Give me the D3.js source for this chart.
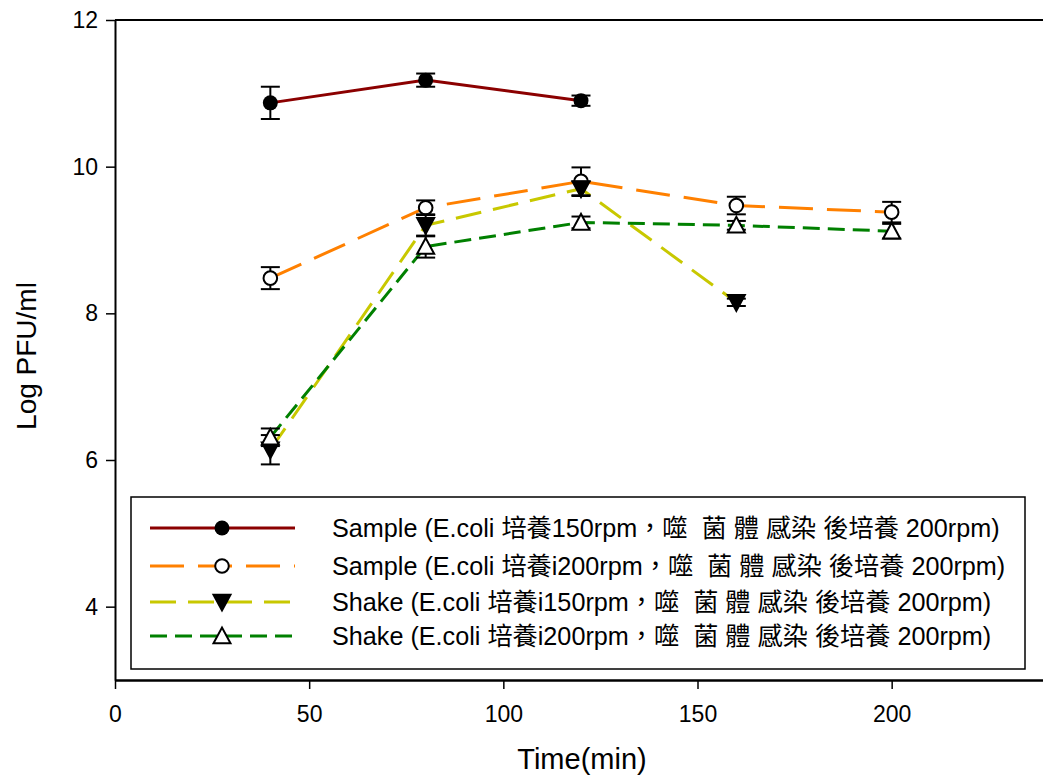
<!DOCTYPE html>
<html>
<head>
<meta charset="utf-8">
<script src="https://cdn.jsdelivr.net/npm/d3@7"></script>
<style>
  body { margin: 0; background: #fff; }
  text { font-family: "Liberation Sans", Arial, "Noto Sans CJK TC", sans-serif; }
</style>
</head>
<body>
<div id="chart"></div>
<script>
// data
var times = [40, 80, 120, 160, 200]

var names = [
    "Sample (E.coli 培養150rpm，噬  菌 體 感染 後培養 200rpm)",
    "Sample (E.coli 培養i200rpm，噬  菌 體 感染 後培養 200rpm)",
    "Shake (E.coli 培養i150rpm，噬  菌 體 感染 後培養 200rpm)",
    "Shake (E.coli 培養i200rpm，噬  菌 體 感染 後培養 200rpm)"
]

var sample150 = [10.87, 11.18, 10.9, null, null]
var sample150Err = [0.22, 0.09, 0.07, null, null]

var sample200 = [8.48, 9.44, 9.8, 9.47, 9.38]
var sample200Err = [0.15, 0.1, 0.19, 0.12, 0.14]

var shake150 = [6.14, 9.2, 9.7, 8.15, null]
var shake150Err = [0.2, 0.15, 0.1, 0.05, null]

var shake200 = [6.31, 8.91, 9.24, 9.2, 9.12]
var shake200Err = [0.12, 0.15, 0.08, 0.06, 0.1]

var xTicks = [0, 50, 100, 150, 200]
var yTicks = [4, 6, 8, 10, 12]

var width = 1043, height = 779
var margin = {left: 115, top: 20}
var plotW = 932, plotH = 660

var svg = d3.select("#chart").append("svg")
    .attr("width", width)
    .attr("height", height)

var x = d3.scaleLinear().domain([0, 240]).range([margin.left, margin.left + plotW])
var y = d3.scaleLinear().domain([3, 12]).range([margin.top + plotH, margin.top])

var series = [
    {name: names[0], vals: sample150, err: sample150Err, color: "#8b0000", dash: null, shape: "circle", fill: "#000"},
    {name: names[1], vals: sample200, err: sample200Err, color: "#ff8000", dash: "34,14", shape: "circle", fill: "#fff"},
    {name: names[2], vals: shake150, err: shake150Err, color: "#c8c800", dash: "26,12", shape: "down", fill: "#000"},
    {name: names[3], vals: shake200, err: shake200Err, color: "#008000", dash: "17,8", shape: "up", fill: "#fff"}
]

// frame
svg.append("line").attr("x1", x(0)).attr("x2", width).attr("y1", y(12)).attr("y2", y(12))
    .attr("stroke", "#000").attr("stroke-width", 2)

var xAxis = svg.append("g")
    .attr("transform", "translate(0," + y(3) + ")")
    .call(d3.axisBottom(x).tickValues(xTicks).tickSize(9).tickPadding(17).tickSizeOuter(0))
var yAxis = svg.append("g")
    .attr("transform", "translate(" + x(0) + ",0)")
    .call(d3.axisLeft(y).tickValues(yTicks).tickSize(9).tickPadding(8).tickSizeOuter(0))

xAxis.select(".domain").attr("stroke-width", 2.5)
yAxis.select(".domain").attr("stroke-width", 2)
svg.selectAll(".tick line").attr("stroke-width", 1.5)
xAxis.selectAll("text").attr("font-size", 23).attr("font-family", "Liberation Sans")
yAxis.selectAll("text").attr("font-size", 23).attr("font-family", "Liberation Sans")

svg.append("text")
    .attr("x", 582).attr("y", 769)
    .attr("text-anchor", "middle")
    .attr("font-size", 29)
    .text("Time(min)")

svg.append("text")
    .attr("transform", "translate(36," + 356 + ") rotate(-90)")
    .attr("text-anchor", "middle")
    .attr("font-size", 28)
    .text("Log PFU/ml")

function drawMarker(g, shape, fill, cx, cy) {
    if (shape == "circle") {
        g.append("circle").attr("cx", cx).attr("cy", cy).attr("r", fill == "#000" ? 7.5 : 6.8)
            .attr("fill", fill).attr("stroke", "#000").attr("stroke-width", fill == "#000" ? 0 : 2)
    } else {
        var s = 8.5
        var pts = shape == "down"
            ? [[cx - s, cy - s * 0.85], [cx + s, cy - s * 0.85], [cx, cy + s * 1.0]]
            : [[cx - s, cy + s * 0.85], [cx + s, cy + s * 0.85], [cx, cy - s * 1.0]]
        g.append("polygon").attr("points", pts.map(function(p){ return p.join(",") }).join(" "))
            .attr("fill", fill).attr("stroke", "#000").attr("stroke-width", 2)
            .attr("stroke-linejoin", "miter")
    }
}

var line = d3.line()
    .defined(function(d){ return d.v != null })
    .x(function(d){ return x(d.t) })
    .y(function(d){ return y(d.v) })

series.forEach(function(s){
    var pts = times.map(function(t, i){ return {t: t, v: s.vals[i], e: s.err[i]} })
    svg.append("path")
        .datum(pts)
        .attr("d", line)
        .attr("fill", "none")
        .attr("stroke", s.color)
        .attr("stroke-width", 3)
        .attr("stroke-dasharray", s.dash)
})

series.forEach(function(s){
    var g = svg.append("g")
    times.forEach(function(t, i){
        if (s.vals[i] == null) return
        var cx = x(t)
        var top = y(s.vals[i] + s.err[i]), bot = y(s.vals[i] - s.err[i])
        g.append("line").attr("x1", cx).attr("x2", cx).attr("y1", top).attr("y2", bot)
            .attr("stroke", "#000").attr("stroke-width", 2)
        ;[top, bot].forEach(function(yy){
            g.append("line").attr("x1", cx - 9.5).attr("x2", cx + 9.5).attr("y1", yy).attr("y2", yy)
                .attr("stroke", "#000").attr("stroke-width", 2)
        })
        drawMarker(g, s.shape, s.fill, cx, y(s.vals[i]))
    })
})

// legend
var legend = svg.append("g")
legend.append("rect")
    .attr("x", 131).attr("y", 497).attr("width", 894).attr("height", 172)
    .attr("fill", "#fff").attr("stroke", "#000").attr("stroke-width", 1.5)

var legY = [528, 566, 602, 636]
series.forEach(function(s, i){
    legend.append("line")
        .attr("x1", 150).attr("x2", 295).attr("y1", legY[i]).attr("y2", legY[i])
        .attr("stroke", s.color).attr("stroke-width", 3)
        .attr("stroke-dasharray", s.dash)
    drawMarker(legend, s.shape, s.fill, 222, legY[i])
    legend.append("text")
        .attr("x", 332).attr("y", legY[i] + 9)
        .attr("font-size", 25.2)
        .style("white-space", "pre")
        .text(s.name)
})
</script>
</body>
</html>
